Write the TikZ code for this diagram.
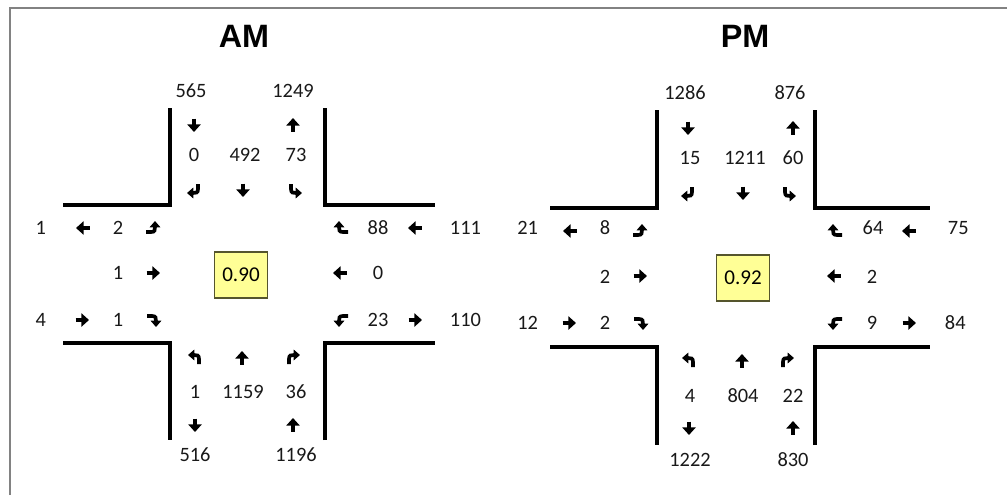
\documentclass[tikz,border=0pt]{standalone}
\usepackage{fontspec}
\setmainfont{Carlito}
\newfontfamily\headfont{Liberation Sans}
\usetikzlibrary{arrows.meta}

\definecolor{framegray}{RGB}{130,130,130}
\definecolor{phfyellow}{RGB}{255,255,150}
\definecolor{phfedge}{RGB}{85,85,45}

\begin{document}
\begin{tikzpicture}[x=0.025cm, y=-0.025cm]
	\tikzset{
		road/.style={line width=3pt},
		thruline/.style={line width=3.2pt, -{Triangle[width=9.5pt, length=5.5pt]}},
		turnline/.style={line width=2.6pt, -{Triangle[width=7.5pt, length=4.5pt]}},
		vol/.style={font=\fontsize{14.5}{17}\selectfont, text=black!90},
		panelhead/.style={font=\headfont\bfseries\fontsize{23}{26}\selectfont},
		phfbox/.style={rectangle, draw=phfedge, line width=1.1pt, fill=phfyellow, minimum width=1.32cm, minimum height=1.15cm, inner sep=0pt, font=\fontsize{15}{17}\selectfont},
		thru/.pic={\draw[thruline] (0,6.5) -- (0,-7);},
		rturn/.pic={\draw[turnline] (-4,6) -- (-4,1) .. controls (-4,-3) and (-2,-3) .. (7,-3);},
		lturn/.pic={\draw[turnline] (4,6) -- (4,1) .. controls (4,-3) and (2,-3) .. (-7,-3);},
	}
	\useasboundingbox (0,0) rectangle (1007,495);
	\draw[framegray, line width=1.6pt] (10,495) -- (10,8) -- (1007,8);

	\node[panelhead] (am-head) at (244,36) {AM};
	\node[panelhead] (pm-head) at (745,36) {PM};
	\node[phfbox] (am-phf) at (241,275) {0.90};
	\node[phfbox] (pm-phf) at (743,278) {0.92};

	% kerbs
	\draw[road] (63,205) -- (170,205) -- (170,108);
	\draw[road] (325,108) -- (325,205) -- (435,205);
	\draw[road] (63,343) -- (170,343) -- (170,440);
	\draw[road] (325,440) -- (325,343) -- (435,343);
	\draw[road] (550,208) -- (657,208) -- (657,110);
	\draw[road] (815,110) -- (815,208) -- (930,208);
	\draw[road] (550,347) -- (657,347) -- (657,445);
	\draw[road] (815,445) -- (815,347) -- (930,347);

	% movement arrows, same for both peaks
	\foreach \dx/\dy/\wx/\mx in {0/0/0/0, 494/3/-7/6} {
		\begin{scope}[shift={(\dx,\dy)}]
			\pic[rotate=180] at (194,125) {thru};
			\pic at (293+\mx,125) {thru};
			\pic[rotate=180] at (194,190) {rturn};
			\pic[rotate=180] at (243+\mx,190) {thru};
			\pic[rotate=180] at (295,190) {lturn};

			\pic[rotate=90] at (83+\wx,228) {thru};
			\pic[rotate=-90] at (152+\wx,228) {lturn};
			\pic[rotate=-90] at (153+\wx,273) {thru};
			\pic[rotate=-90] at (82+\wx,320) {thru};
			\pic[rotate=-90] at (153+\wx,320) {rturn};

			\pic[rotate=90] at (342,228) {rturn};
			\pic[rotate=90] at (415,228) {thru};
			\pic[rotate=90] at (340,273) {thru};
			\pic[rotate=90] at (342,320) {lturn};
			\pic[rotate=-90] at (415,320) {thru};

			\pic at (195,358) {lturn};
			\pic at (242+\mx,358) {thru};
			\pic at (293,358) {rturn};
			\pic[rotate=180] at (195,425) {thru};
			\pic at (293+\mx,425) {thru};
		\end{scope}
	}

	% AM volumes
	\node[vol] (am-n-in) at (191,91) {565};
	\node[vol] (am-n-out) at (293,91) {1249};
	\node[vol] (am-sb-r) at (194,155) {0};
	\node[vol] (am-sb-t) at (245,155) {492};
	\node[vol] (am-sb-l) at (296,155) {73};
	\node[vol, anchor=east] (am-w-out) at (51,228) {1};
	\node[vol] (am-eb-l) at (118,228) {2};
	\node[vol] (am-eb-t) at (118,273) {1};
	\node[vol, anchor=east] (am-w-in) at (51,320) {4};
	\node[vol] (am-eb-r) at (118,320) {1};
	\node[vol] (am-wb-r) at (378,228) {88};
	\node[vol, anchor=west] (am-e-in) at (445,228) {111};
	\node[vol] (am-wb-t) at (378,273) {0};
	\node[vol] (am-wb-l) at (378,320) {23};
	\node[vol, anchor=west] (am-e-out) at (445,320) {110};
	\node[vol] (am-nb-l) at (195,392) {1};
	\node[vol] (am-nb-t) at (243,392) {1159};
	\node[vol] (am-nb-r) at (296,392) {36};
	\node[vol] (am-s-out) at (195,455) {516};
	\node[vol] (am-s-in) at (296,455) {1196};

	% PM volumes
	\node[vol] (pm-n-in) at (685,93) {1286};
	\node[vol] (pm-n-out) at (790,93) {876};
	\node[vol] (pm-sb-r) at (690,158) {15};
	\node[vol] (pm-sb-t) at (745,158) {1211};
	\node[vol] (pm-sb-l) at (793,158) {60};
	\node[vol, anchor=east] (pm-w-out) at (543,228) {21};
	\node[vol] (pm-eb-l) at (605,228) {8};
	\node[vol] (pm-eb-t) at (605,277) {2};
	\node[vol, anchor=east] (pm-w-in) at (543,323) {12};
	\node[vol] (pm-eb-r) at (605,323) {2};
	\node[vol] (pm-wb-r) at (873,228) {64};
	\node[vol, anchor=west] (pm-e-in) at (943,228) {75};
	\node[vol] (pm-wb-t) at (872,277) {2};
	\node[vol] (pm-wb-l) at (872,323) {9};
	\node[vol, anchor=west] (pm-e-out) at (940,323) {84};
	\node[vol] (pm-nb-l) at (690,396) {4};
	\node[vol] (pm-nb-t) at (743,396) {804};
	\node[vol] (pm-nb-r) at (793,396) {22};
	\node[vol] (pm-s-out) at (690,460) {1222};
	\node[vol] (pm-s-in) at (793,460) {830};
\end{tikzpicture}
\end{document}
